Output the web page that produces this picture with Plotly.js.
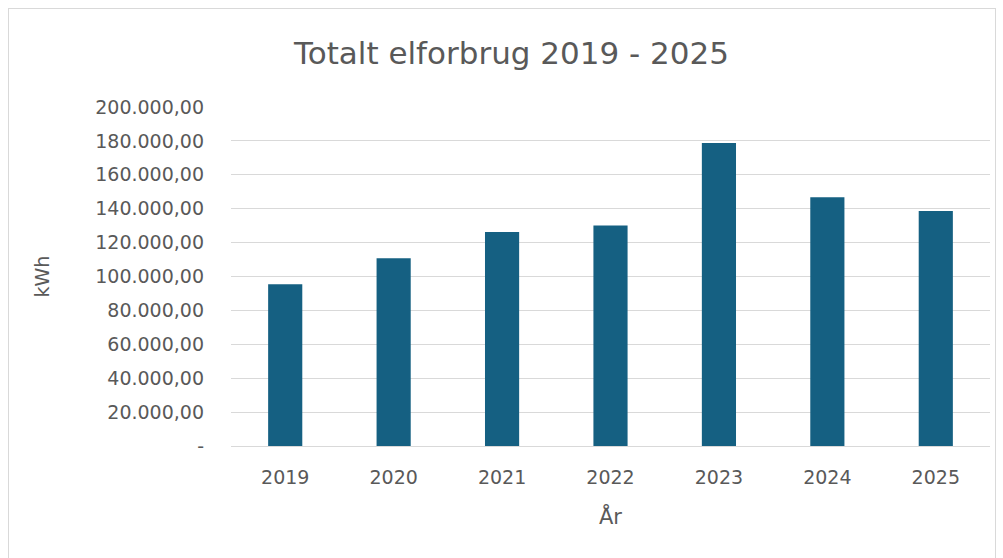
<!DOCTYPE html>
<html>
<head>
<meta charset="utf-8">
<script src="https://cdn.plot.ly/plotly-3.0.1.min.js"></script>
<style>
  html, body { margin: 0; padding: 0; background: #ffffff; }
  #frame { position: absolute; left: 8px; top: 8px; width: 988px; height: 600px; border: 1px solid #d9d9d9; box-sizing: border-box; }
  #chart { position: absolute; left: 0; top: 0; width: 1003px; height: 558px; }
</style>
</head>
<body>
<div id="frame"></div>
<div id="chart"></div>
<script>
const years = ["2019", "2020", "2021", "2022", "2023", "2024", "2025"];
const consumption = [95500, 110700, 126200, 130100, 178700, 146700, 138600];
const yTickValues = [0, 20000, 40000, 60000, 80000, 100000, 120000, 140000, 160000, 180000, 200000];
const yTickLabels = ["-", "20.000,00", "40.000,00", "60.000,00", "80.000,00", "100.000,00", "120.000,00", "140.000,00", "160.000,00", "180.000,00", "200.000,00"];

const textColor = "#595959";
const fontFam = "'DejaVu Sans', sans-serif";

const data = [{
  type: "bar",
  x: years,
  y: consumption,
  marker: { color: "#156082" },
  hoverinfo: "x+y"
}];

const layout = {
  width: 1003,
  height: 558,
  paper_bgcolor: "rgba(0,0,0,0)",
  plot_bgcolor: "rgba(0,0,0,0)",
  margin: { l: 231, r: 13, t: 107, b: 112 },
  bargap: 0.685,
  showlegend: false,
  title: {
    text: "Totalt elforbrug 2019 - 2025",
    font: { family: fontFam, size: 31, color: textColor },
    x: 0.51, xanchor: "center",
    y: 0.905, yanchor: "middle"
  },
  xaxis: {
    type: "category",
    tickfont: { family: fontFam, size: 19, color: textColor },
    ticklabelstandoff: 18,
    showgrid: false,
    showline: false,
    zeroline: false,
    ticks: "",
    title: {
      text: "År",
      font: { family: fontFam, size: 21, color: textColor },
      standoff: 22
    }
  },
  yaxis: {
    range: [0, 200000],
    tickvals: yTickValues,
    ticktext: yTickLabels,
    tickfont: { family: fontFam, size: 19, color: textColor },
    ticklabelstandoff: 26,
    showgrid: true,
    gridcolor: "#d9d9d9",
    gridwidth: 1,
    zeroline: true,
    zerolinecolor: "#d9d9d9",
    zerolinewidth: 1,
    showline: false,
    ticks: "",
    title: {
      text: "kWh",
      font: { family: fontFam, size: 19, color: textColor },
      standoff: 40
    }
  }
};

Plotly.newPlot("chart", data, layout, { displayModeBar: false });
</script>
</body>
</html>
